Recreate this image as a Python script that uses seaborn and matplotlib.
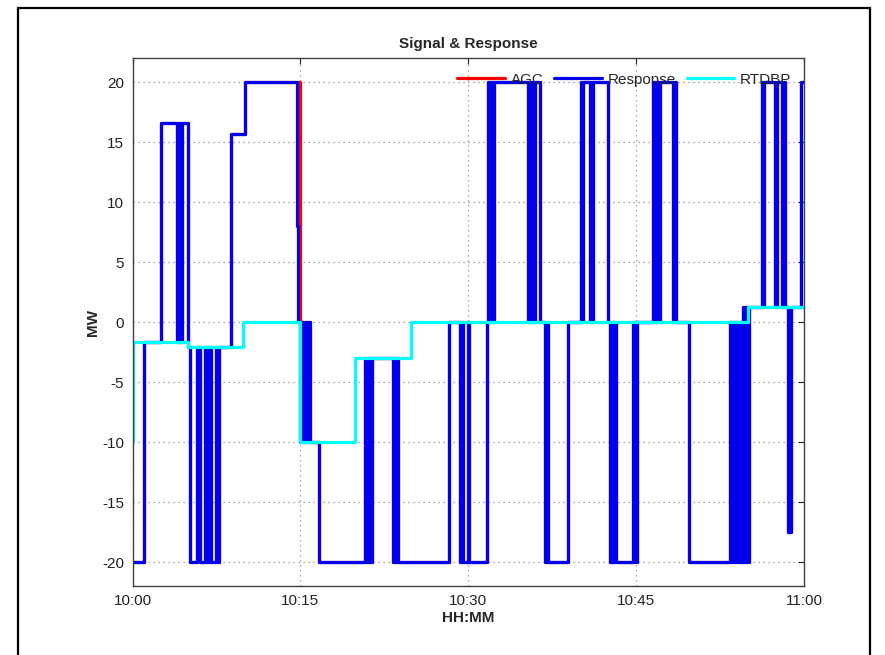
import matplotlib
matplotlib.use("Agg")
import matplotlib.pyplot as plt
from matplotlib.lines import Line2D
import seaborn as sns
import pandas as pd

# ---------------- data (minutes after 10:00, MW) ----------------
resp_t = [0.0, 1.07, 2.51, 3.95, 4.05, 4.15, 4.25, 4.35, 4.45, 4.93,
          5.10, 5.73, 6.00, 6.45, 6.55, 6.70, 6.80, 6.95, 7.05, 7.43, 7.52, 7.70,
          8.84, 10.03, 14.66, 14.78,
          14.95, 15.10, 15.25, 15.40, 15.55, 15.70, 15.85, 16.68,
          20.78, 20.90, 21.00, 21.10, 21.20, 21.30, 21.40,
          23.26, 23.40, 23.50, 23.60, 23.70,
          28.24, 29.30, 29.45, 29.55, 29.95, 30.10, 31.67,
          31.79, 31.95, 32.05, 32.20, 32.30,
          35.37, 35.50, 35.60, 35.75, 35.85, 36.00, 36.45,
          36.90, 37.00, 37.10, 38.95,
          40.03, 40.15, 40.25, 40.84, 40.95, 41.05, 41.15, 42.45,
          42.70, 42.85, 42.95, 43.10, 43.20,
          44.69, 44.80, 44.90, 45.00, 45.10,
          46.48, 46.60, 46.70, 46.80, 46.90, 47.00, 47.10, 48.30, 48.45, 48.60,
          49.75, 49.95,
          53.40, 53.55, 53.70, 53.80, 53.95, 54.10, 54.25, 54.40, 54.55, 54.70,
          54.85, 55.00, 55.10,
          56.25, 56.35, 56.45, 57.40, 57.55, 58.00, 58.15, 58.30,
          58.55, 58.80, 59.73, 60.0]
resp_v = [-20, -1.7, 16.6, -1.7, 16.6, -1.7, 16.6, -1.7, 16.6, -2.1,
          -20, -2.1, -20, -2.1, -20, -2.1, -20, -2.1, -20, -2.1, -20, -2.1,
          15.7, 20, 8, 0,
          -10, 0, -10, 0, -10, 0, -10, -20,
          -3, -20, -3, -20, -3, -20, -3,
          -20, -3, -20, -3, -20,
          0, -20, 0, -20, 0, -20, 0,
          20, 0, 20, 0, 20,
          0, 20, 0, 20, 0, 20, 0,
          -20, 0, -20, 0,
          20, 0, 20, 0, 20, 0, 20, 0,
          -20, 0, -20, 0, -20,
          0, -20, 0, -20, 0,
          20, 0, 20, 0, 20, 0, 20, 0, 20, 0,
          -20, -20,
          0, -20, 0, -20, 0, -20, 0, -20, 1.25, -20,
          1.25, -20, 1.25,
          20, 1.25, 20, 1.25, 20, 1.25, 20, 1.25,
          -17.5, 1.25, 20, 20]

# AGC command: identical to the response except that its drop at 10:15 comes slightly later
agc_drop_t = [14.98]
agc_drop_v = [0]
i0 = resp_t.index(14.66)
i1 = resp_t.index(14.95)
agc_t = resp_t[:i0] + agc_drop_t + resp_t[i1:]
agc_v = resp_v[:i0] + agc_drop_v + resp_v[i1:]

rtdbp_t = [0.0, 0.05, 4.93, 9.85, 14.95, 19.88, 24.90, 54.98, 60.0]
rtdbp_v = [-10, -1.7, -2.1, 0, -10, -3, 0, 1.25, 1.25]

xticks = [0, 15, 30, 45, 60]
xtick_labels = ["10:00", "10:15", "10:30", "10:45", "11:00"]
yticks = [-20, -15, -10, -5, 0, 5, 10, 15, 20]

# ---------------- figure ----------------
sns.set_style("white")
plt.rcParams['font.family'] = ['Liberation Sans', 'DejaVu Sans']
plt.rcParams['font.size'] = 11
plt.rcParams['axes.unicode_minus'] = False

fig = plt.figure(figsize=(8.85, 6.55), dpi=100)
ax = fig.add_axes([132.5 / 885, 1 - 586 / 655, (804 - 132.5) / 885, (586 - 58) / 655])

df_agc = pd.DataFrame({"t": agc_t, "v": agc_v})
df_resp = pd.DataFrame({"t": resp_t, "v": resp_v})
df_rt = pd.DataFrame({"t": rtdbp_t, "v": rtdbp_v})

common = dict(estimator=None, sort=False, drawstyle="steps-post", linewidth=2.3, ax=ax)
sns.lineplot(data=df_agc, x="t", y="v", color="#ff0000", label="AGC", **common)
sns.lineplot(data=df_resp, x="t", y="v", color="#0000ee", label="Response", **common)
sns.lineplot(data=df_rt, x="t", y="v", color="#00ffff", label="RTDBP", **common)

ax.set_xlim(0, 60)
ax.set_ylim(-22, 22)
ax.set_xticks(xticks)
ax.set_xticklabels(xtick_labels)
ax.set_yticks(yticks)
ax.grid(True, color="#8a8a8a", linestyle=(0, (1, 3)), linewidth=0.9)
ax.tick_params(direction="in", length=4, width=0.8, top=True, right=True,
               labelsize=11, colors="#222222", pad=6)
for s in ax.spines.values():
    s.set_color("#404040")
    s.set_linewidth(1.0)

ax.set_title("Signal & Response", fontsize=11, fontweight="bold", pad=7.5)
ax.set_xlabel("HH:MM", fontsize=11, fontweight="bold", labelpad=2)
ax.set_ylabel("MW", fontsize=11, fontweight="bold", labelpad=1.5)

leg = ax.legend(loc="upper right", ncol=3, frameon=False, fontsize=11,
                handlelength=3.1, handletextpad=0.4, columnspacing=0.7,
                borderaxespad=0.55, bbox_to_anchor=(1.003, 1.0))

# outer black frame of the original screenshot
x0, x1, ytop = 18 / 885, 870 / 885, 1 - 8 / 655
fig.add_artist(Line2D([x0, x1], [ytop, ytop], color="black", linewidth=1.6, transform=fig.transFigure))
fig.add_artist(Line2D([x0, x0], [0, ytop], color="black", linewidth=1.6, transform=fig.transFigure))
fig.add_artist(Line2D([x1, x1], [0, ytop], color="black", linewidth=1.6, transform=fig.transFigure))

fig.savefig("out.png", dpi=100)
